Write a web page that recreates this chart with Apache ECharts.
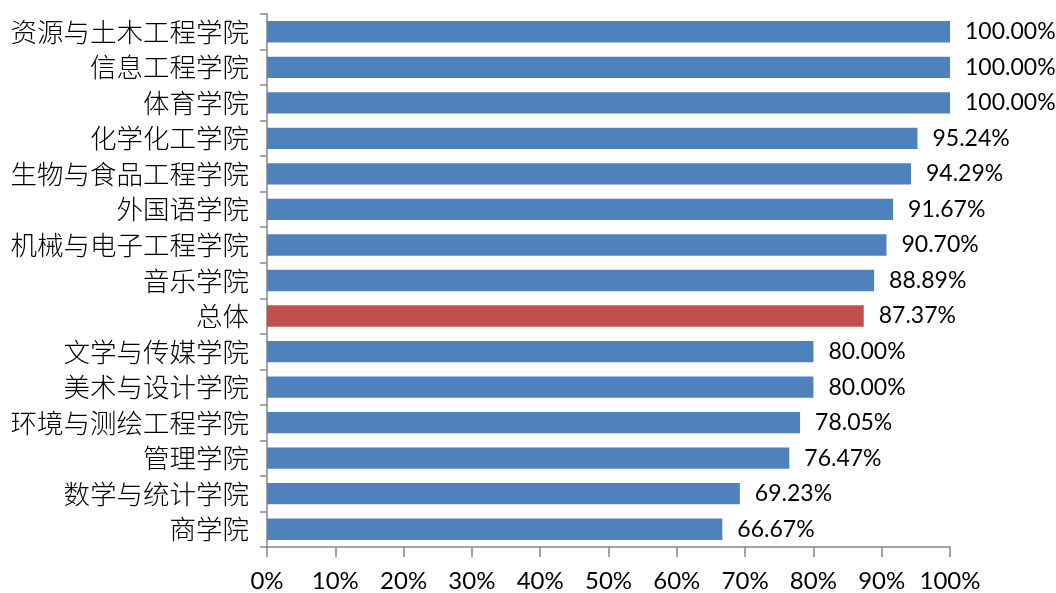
<!DOCTYPE html>
<html><head><meta charset="utf-8">
<script src="https://cdn.jsdelivr.net/npm/echarts@6/dist/echarts.min.js"></script>
<style>html,body{margin:0;padding:0;background:#fff;}#c{width:1056px;height:593px;}</style>
</head><body><div id="c"></div>
<script>
const categories = ['资源与土木工程学院','信息工程学院','体育学院','化学化工学院','生物与食品工程学院','外国语学院','机械与电子工程学院','音乐学院','总体','文学与传媒学院','美术与设计学院','环境与测绘工程学院','管理学院','数学与统计学院','商学院'];
const values = [100, 100, 100, 95.24, 94.29, 91.67, 90.70, 88.89, 87.37, 80.00, 80.00, 78.05, 76.47, 69.23, 66.67];
const highlight = '总体';
const chart = echarts.init(document.getElementById('c'));
chart.setOption({
  animation: false,
  grid: {left: 267, right: 106, top: 14, bottom: 42, containLabel: false},
  xAxis: {
    type: 'value', min: 0, max: 100, interval: 10,
    axisLine: {show: true, lineStyle: {color: '#868686', width: 1.5}},
    axisTick: {show: true, length: 10, inside: false, lineStyle: {color: '#868686', width: 1.5}},
    splitLine: {show: false},
    axisLabel: {formatter: v => v + '%', color: '#000', fontSize: 24, fontFamily: 'Lato', margin: 22}
  },
  yAxis: {
    type: 'category', data: categories, inverse: true,
    axisLine: {show: true, lineStyle: {color: '#868686', width: 1.5}},
    axisTick: {show: true, length: 7, lineStyle: {color: '#868686', width: 1.5}},
    axisLabel: {color: '#000', fontSize: 26.5, fontFamily: 'Noto Sans CJK SC', fontWeight: 300, margin: 18}
  },
  series: [{
    type: 'bar',
    data: values.map((v, i) => ({value: v, itemStyle: {color: categories[i] === highlight ? '#C0504D' : '#4F81BD'}})),
    barCategoryGap: '40%',
    label: {show: true, position: 'right', distance: 15, color: '#000', fontSize: 23, fontFamily: 'Lato', formatter: p => p.value.toFixed(2) + '%'}
  }]
});
</script></body></html>
